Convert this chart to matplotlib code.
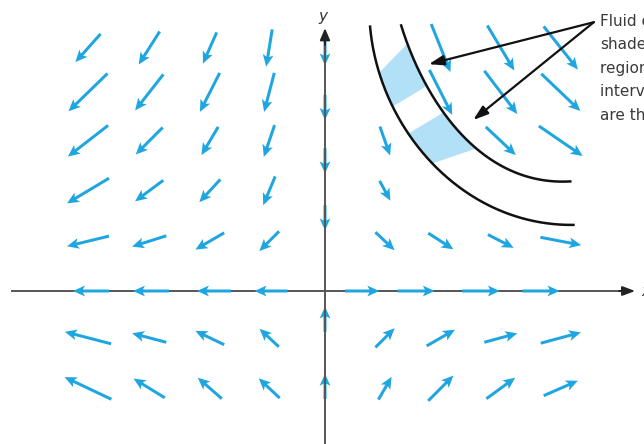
import matplotlib

matplotlib.use("Agg")
import matplotlib.pyplot as plt
import numpy as np

BLUE = "#1fa6e0"
SHADE = "#b2e0f6"
AXIS = "#555555"
NAN = np.nan

# arrow centres of the vector field (plot units, origin at the axes crossing)
COL_X = [-3.95, -2.93, -1.92, -0.93, 1.0, 1.93, 2.93, 3.93]
ROW_Y = [4.05, 3.31, 2.5, 1.67, 0.83, -0.78, -1.62]

# velocity components, one row per ROW_Y
U_ROWS = [
    [-0.42, -0.35, -0.23, -0.10, NAN, 0.32, 0.45, 0.57],
    [-0.65, -0.47, -0.33, -0.17, NAN, 0.38, 0.55, 0.65],
    [-0.67, -0.45, -0.28, -0.18, 0.17, NAN, 0.50, 0.73],
    [-0.70, -0.47, -0.35, -0.20, 0.18, NAN, NAN, NAN],
    [-0.70, -0.57, -0.48, -0.33, 0.32, 0.42, 0.43, 0.68],
    [-0.77, -0.57, -0.48, -0.32, 0.32, 0.47, 0.55, 0.67],
    [-0.78, -0.52, -0.40, -0.35, 0.22, 0.42, 0.48, 0.57],
]
V_ROWS = [
    [-0.47, -0.55, -0.52, -0.62, NAN, -0.80, -0.75, -0.72],
    [-0.63, -0.60, -0.65, -0.65, NAN, -0.75, -0.72, -0.62],
    [-0.52, -0.45, -0.47, -0.53, -0.48, NAN, -0.47, -0.50],
    [-0.42, -0.35, -0.38, -0.48, -0.33, NAN, NAN, NAN],
    [-0.17, -0.18, -0.28, -0.33, -0.30, -0.27, -0.22, -0.13],
    [0.20, 0.15, 0.23, 0.30, 0.32, 0.27, 0.15, 0.18],
    [0.37, 0.32, 0.35, 0.33, 0.38, 0.42, 0.35, 0.25],
]

# arrows lying on the axes
XAXIS_X = [-3.9, -2.9, -1.85, -0.9, 0.62, 1.52, 2.6, 3.6]
XAXIS_U = [-0.60, -0.60, -0.57, -0.55, 0.57, 0.62, 0.63, 0.62]
YAXIS_Y = [3.97, 3.06, 2.17, 1.22, -0.47, -1.59]
YAXIS_V = [-0.42, -0.42, -0.42, -0.42, 0.42, 0.42]

# two streamlines
INNER_X = [0.73, 0.88, 1.12, 1.38, 1.72, 2.05, 2.47, 3.03, 3.58, 4.13]
INNER_Y = [4.40, 3.85, 3.13, 2.57, 2.18, 1.90, 1.57, 1.30, 1.15, 1.10]
OUTER_X = [1.27, 1.47, 1.78, 2.12, 2.47, 3.03, 3.58, 4.08]
OUTER_Y = [4.43, 3.85, 3.30, 2.80, 2.40, 2.02, 1.88, 1.82]

# fluid element at two instants: x-span on the inner and on the outer streamline
BAND_INNER = [(0.90, 1.13), (1.38, 1.80)]
BAND_OUTER = [(1.37, 1.70), (1.97, 2.53)]

NOTE_LINES = ["Fluid elements in the", "shaded", "regions at equal", "intervals of time", "are the same"]
NOTE_XY = (4.58, 4.42)
NOTE_TARGETS = [(1.73, 3.78), (2.47, 2.85)]


def smooth(xs, ys, n=300, deg=3):
    pts = np.column_stack([xs, ys])
    d = np.r_[0, np.cumsum(np.hypot(*np.diff(pts, axis=0).T))]
    t = d / d[-1]
    tt = np.linspace(0, 1, n)
    return np.polyval(np.polyfit(t, xs, deg), tt), np.polyval(np.polyfit(t, ys, deg), tt)


fig = plt.figure(figsize=(6.44, 4.44), dpi=100)
ax = fig.add_axes([0, 0, 1, 1])
ax.set_xlim(-325 / 60, 319 / 60)
ax.set_ylim(-153 / 60, 291 / 60)
ax.axis("off")

qkw = dict(angles="xy", scale_units="xy", scale=1, pivot="middle", color=BLUE,
           units="dots", width=3.0, headwidth=3.6, headlength=4.0, headaxislength=3.3)

# axes lines
ax.plot([-5.22, 5.0], [0, 0], color=AXIS, lw=1.4, zorder=2)
ax.plot([0, 0], [-2.7, 4.25], color=AXIS, lw=1.4, zorder=2)
ax.annotate("", xy=(5.17, 0), xytext=(4.9, 0),
            arrowprops=dict(arrowstyle="-|>,head_length=0.75,head_width=0.28", color="#222222",
                            lw=1.4, shrinkA=0, shrinkB=0), zorder=4)
ax.annotate("", xy=(0, 4.38), xytext=(0, 4.1),
            arrowprops=dict(arrowstyle="-|>,head_length=0.7,head_width=0.3", color="#222222",
                            lw=1.4, shrinkA=0, shrinkB=0), zorder=4)
ax.text(-0.03, 4.58, "y", fontsize=11, style="italic", ha="center", va="center", color="#333333")
ax.text(5.28, 0.0, "x", fontsize=11, style="italic", ha="left", va="center", color="#333333")

# vector field
Xg, Yg = np.meshgrid(COL_X, ROW_Y)
U = np.array(U_ROWS)
V = np.array(V_ROWS)
ok = ~np.isnan(U)
ax.quiver(Xg[ok], Yg[ok], U[ok], V[ok], zorder=3, **qkw)
ax.quiver(XAXIS_X, np.zeros(len(XAXIS_X)), XAXIS_U, np.zeros(len(XAXIS_U)), zorder=3, **qkw)
ax.quiver(np.zeros(len(YAXIS_Y)), YAXIS_Y, np.zeros(len(YAXIS_V)), YAXIS_V, zorder=1, **qkw)

# streamlines and the shaded fluid element
ix, iy = smooth(INNER_X, INNER_Y)
ox, oy = smooth(OUTER_X, OUTER_Y)
for (a0, a1), (b0, b1) in zip(BAND_INNER, BAND_OUTER):
    mi = (ix >= a0) & (ix <= a1)
    mo = (ox >= b0) & (ox <= b1)
    px = np.r_[ix[mi], ox[mo][::-1]]
    py = np.r_[iy[mi], oy[mo][::-1]]
    ax.fill(px, py, color=SHADE, lw=0, zorder=1)
ax.plot(ix, iy, color="#111111", lw=1.8, zorder=4)
ax.plot(ox, oy, color="#111111", lw=1.8, zorder=4)

# callout
for i, line in enumerate(NOTE_LINES):
    ax.text(NOTE_XY[0], NOTE_XY[1] - i * 23.5 / 60, line, fontsize=11, family="DejaVu Sans",
            color="#3a3a3a", ha="left", va="baseline")
for tx, ty in NOTE_TARGETS:
    ax.annotate("", xy=(tx, ty), xytext=(4.48, 4.48),
                arrowprops=dict(arrowstyle="-|>,head_length=0.9,head_width=0.3", color="#111111",
                                lw=1.6, shrinkA=0, shrinkB=0), zorder=5)

fig.savefig("out.png", dpi=100)
